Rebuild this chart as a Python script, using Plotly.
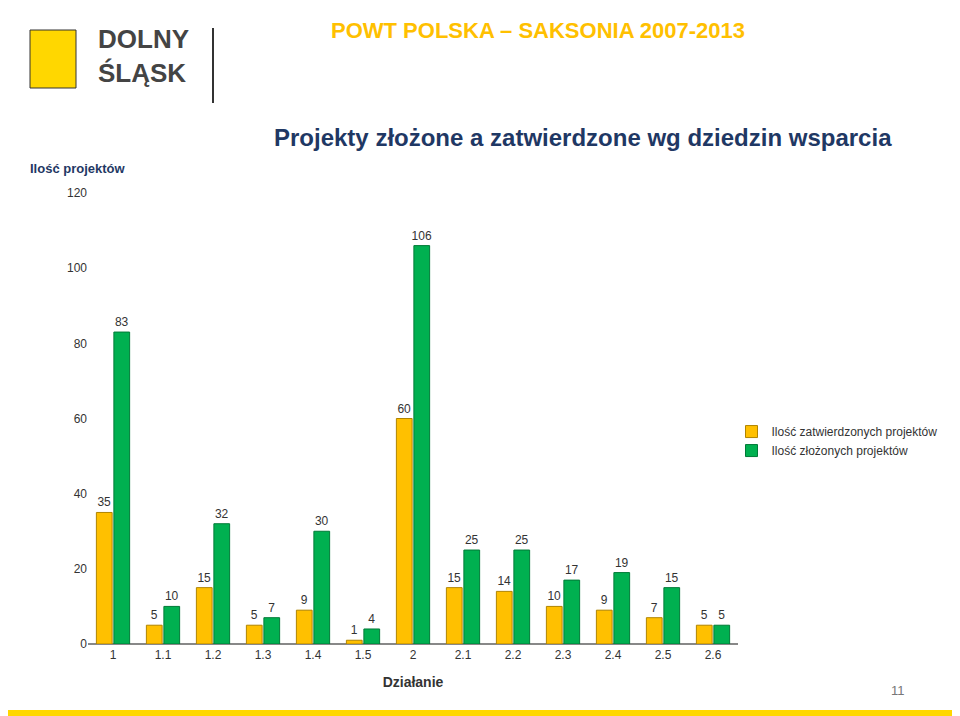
import plotly.graph_objects as go

categories = ["1", "1.1", "1.2", "1.3", "1.4", "1.5", "2", "2.1", "2.2", "2.3", "2.4", "2.5", "2.6"]
zatwierdzone = [35, 5, 15, 5, 9, 1, 60, 15, 14, 10, 9, 7, 5]
zlozone = [83, 10, 32, 7, 30, 4, 106, 25, 25, 17, 19, 15, 5]
y_ticks = [0, 20, 40, 60, 80, 100, 120]

L, R, T, B = 80, 230, 185, 80
pw, ph = 960 - L - R, 716 - T - B

def px(x):
    return (x - L) / pw

def py(y):
    return (716 - B - y) / ph

fig = go.Figure()
tf = dict(size=12, color="#333", family="Liberation Sans")
fig.add_trace(go.Bar(x=categories, y=zatwierdzone, name="Ilość zatwierdzonych projektów",
                     marker=dict(color="#FFC000", line=dict(color="#B08400", width=1)),
                     text=zatwierdzone, textposition="outside", cliponaxis=False,
                     textfont=tf, constraintext="none"))
fig.add_trace(go.Bar(x=categories, y=zlozone, name="Ilość złożonych projektów",
                     marker=dict(color="#00B050", line=dict(color="#007A37", width=1)),
                     text=zlozone, textposition="outside", cliponaxis=False,
                     textfont=tf, constraintext="none"))

fig.update_layout(
    width=960, height=716, barmode="group", bargap=0.3, bargroupgap=0.1,
    paper_bgcolor="white", plot_bgcolor="white",
    margin=dict(l=L, r=R, t=T, b=B, autoexpand=False),
    font=dict(family="Liberation Sans", size=12, color="#333"),
    yaxis=dict(range=[0, 120], tickvals=y_ticks, showgrid=False, zeroline=True,
               zerolinecolor="#888", showline=False, ticks=""),
    xaxis=dict(showline=True, linecolor="#888",
               title=dict(text="<b>Działanie</b>", font=dict(size=14))),
    legend=dict(x=0.99, y=0.45, xanchor="left", yanchor="middle",
                font=dict(size=12), bgcolor="rgba(0,0,0,0)"),
)
ann = [
    ("<b>POWT POLSKA – SAKSONIA 2007-2013</b>", 530, 22, dict(size=22, color="#FFC000")),
    ("<b>Projekty złożone a zatwierdzone wg dziedzin wsparcia</b>", 575, 130, dict(size=24, color="#1F3864")),
    ("<b>DOLNY<br>ŚLĄSK</b>", 135, 48, dict(size=26, color="#444")),
    ("<b>Ilość projektów</b>", 70, 160, dict(size=13, color="#1F3864")),
    ("11", 890, 682, dict(size=13, color="#777")),
]
for text, x, y, font in ann:
    fig.add_annotation(text=text, x=px(x), y=py(y), xref="paper", yref="paper",
                       xanchor="center", yanchor="middle", showarrow=False,
                       font=font, align="left")
fig.add_shape(type="rect", xref="paper", yref="paper",
              x0=px(0), x1=px(960), y0=py(716), y1=py(702), fillcolor="#FFD700", line_width=0)
fig.add_shape(type="rect", xref="paper", yref="paper",
              x0=px(22), x1=px(68), y0=py(80), y1=py(22),
              fillcolor="#FFD700", line=dict(color="#333", width=1))
fig.add_shape(type="line", xref="paper", yref="paper",
              x0=px(205), x1=px(205), y0=py(95), y1=py(20),
              line=dict(color="#333", width=2))
fig.write_html("out.html")
